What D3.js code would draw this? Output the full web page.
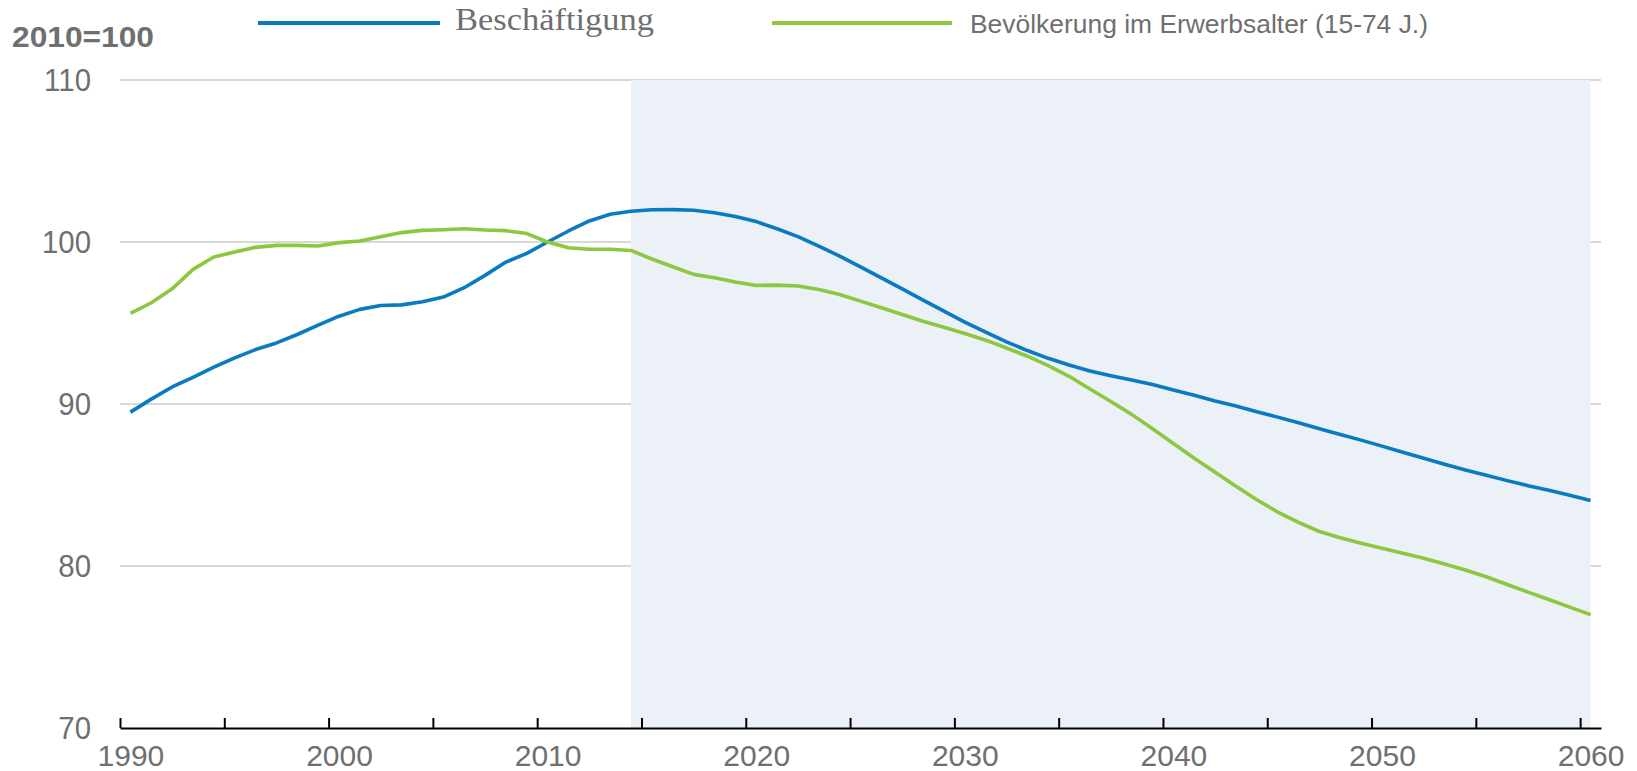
<!DOCTYPE html>
<html>
<head>
<meta charset="utf-8">
<script src="https://cdn.jsdelivr.net/npm/d3@7"></script>
<style>
  html, body { margin: 0; padding: 0; background: #ffffff; }
  svg { display: block; }
</style>
</head>
<body>
<svg id="chart" width="1637" height="771"></svg>
<script>
// ---- Data ----
const years = d3.range(1990, 2061);
const beschaeftigung = [
  89.5, 90.3, 91.05, 91.65, 92.27, 92.85, 93.36, 93.77, 94.29, 94.87,
  95.42, 95.84, 96.08, 96.12, 96.31, 96.6, 97.18, 97.94, 98.76, 99.3,
  100.0, 100.68, 101.3, 101.71, 101.9, 101.99, 102.0, 101.96, 101.81, 101.57,
  101.26, 100.82, 100.33, 99.75, 99.13, 98.47, 97.79, 97.11, 96.41, 95.73,
  95.05, 94.43, 93.84, 93.3, 92.82, 92.41, 92.04, 91.75, 91.48, 91.2,
  90.87, 90.54, 90.19, 89.88, 89.52, 89.19, 88.84, 88.47, 88.12, 87.77,
  87.4, 87.02, 86.65, 86.28, 85.93, 85.6, 85.27, 84.96, 84.67, 84.36,
  84.05
];
const bevoelkerung = [
  95.59, 96.25, 97.11, 98.31, 99.07, 99.38, 99.67, 99.79, 99.79, 99.75,
  99.96, 100.06, 100.33, 100.58, 100.72, 100.76, 100.82, 100.74, 100.7, 100.52,
  100.0, 99.65, 99.55, 99.55, 99.48, 98.95, 98.47, 98.0, 97.79, 97.53,
  97.32, 97.34, 97.28, 97.07, 96.76, 96.35, 95.94, 95.53, 95.11, 94.74,
  94.35, 93.94, 93.46, 92.95, 92.37, 91.71, 90.93, 90.15, 89.36, 88.47,
  87.56, 86.65, 85.79, 84.92, 84.09, 83.33, 82.69, 82.13, 81.74, 81.4,
  81.1, 80.79, 80.48, 80.12, 79.75, 79.34, 78.86, 78.39, 77.93, 77.46,
  77.0
];
const seriesNames = ["Beschäftigung", "Bevölkerung im Erwerbsalter (15-74 J.)"];
const yTicks = [70, 80, 90, 100, 110];
const xLabelYears = [1990, 2000, 2010, 2020, 2030, 2040, 2050, 2060];
const xTickMarks = d3.range(1989.5, 2060, 5);
const projectionStart = 2014;
const unitLabel = "2010=100";

// ---- Layout ----
const svg = d3.select("#chart");
const x = d3.scaleLinear().domain([1989.5, 2060.5]).range([120, 1601]);
const y = d3.scaleLinear().domain([70, 110]).range([728, 80]);
const colors = ["#0b7bc1", "#8dc63f"];
const textGray = "#6f6f6f";
const sans = "Liberation Sans, Arial, sans-serif";

// gridlines
svg.append("g")
  .selectAll("line")
  .data(yTicks.filter(d => d > 70))
  .join("line")
  .attr("x1", x(1989.5)).attr("x2", x(2060.5))
  .attr("y1", d => y(d)).attr("y2", d => y(d))
  .attr("stroke", "#cbcbcb").attr("stroke-width", 1.6);

// projection shading
svg.append("rect")
  .attr("x", x(projectionStart))
  .attr("y", y(110))
  .attr("width", x(2060) - x(projectionStart))
  .attr("height", y(70) - y(110))
  .attr("fill", "#ecf0f7");

// y labels
svg.append("g")
  .selectAll("g")
  .data(yTicks)
  .join("g")
  .attr("transform", d => `translate(91,${y(d)}) scale(0.92,1)`)
  .append("text")
  .attr("dy", "0.34em")
  .attr("text-anchor", "end")
  .attr("font-family", sans)
  .attr("font-size", 32)
  .attr("fill", textGray)
  .text(d => d);

// x axis with ticks
const xAxis = d3.axisBottom(x)
  .tickValues(xTickMarks)
  .tickSize(-10)
  .tickSizeOuter(0)
  .tickFormat("");
const gx = svg.append("g").attr("transform", `translate(0,${y(70)})`).call(xAxis);
gx.select(".domain").attr("stroke", "#000").attr("stroke-width", 2);
gx.selectAll(".tick line").attr("stroke", "#000").attr("stroke-width", 2);

// x labels
const xLab = d3.axisBottom(x)
  .tickValues(xLabelYears)
  .tickSize(0)
  .tickPadding(17)
  .tickFormat(d3.format("d"));
const gxl = svg.append("g").attr("transform", `translate(0,${y(70)})`).call(xLab);
gxl.select(".domain").remove();
gxl.selectAll("text")
  .attr("font-family", sans)
  .attr("font-size", 30)
  .attr("fill", textGray);

// lines
const line = d3.line().x((d, i) => x(years[i])).y(d => y(d));
[beschaeftigung, bevoelkerung].forEach((s, k) => {
  svg.append("path")
    .datum(s)
    .attr("d", line)
    .attr("fill", "none")
    .attr("stroke", colors[k])
    .attr("stroke-width", 3.6)
    .attr("stroke-linejoin", "round");
});

// unit label
svg.append("text")
  .attr("x", 12).attr("y", 46.5)
  .attr("font-family", sans)
  .attr("font-weight", "bold")
  .attr("font-size", 29)
  .attr("textLength", 142)
  .attr("lengthAdjust", "spacingAndGlyphs")
  .attr("fill", textGray)
  .text(unitLabel);

// legend
const legend = [
  { x1: 258, x2: 440, tx: 455, font: "Liberation Serif, Times New Roman, serif", size: 32, base: 30, len: 199 },
  { x1: 772, x2: 952, tx: 970, font: sans, size: 26, base: 33, len: 458 }
];
legend.forEach((l, k) => {
  svg.append("line")
    .attr("x1", l.x1).attr("x2", l.x2)
    .attr("y1", 23).attr("y2", 23)
    .attr("stroke", colors[k]).attr("stroke-width", 4);
  svg.append("text")
    .attr("x", l.tx).attr("y", l.base)
    .attr("font-family", l.font)
    .attr("font-size", l.size)
    .attr("textLength", l.len)
    .attr("lengthAdjust", "spacingAndGlyphs")
    .attr("fill", textGray)
    .text(seriesNames[k]);
});
</script>
</body>
</html>
